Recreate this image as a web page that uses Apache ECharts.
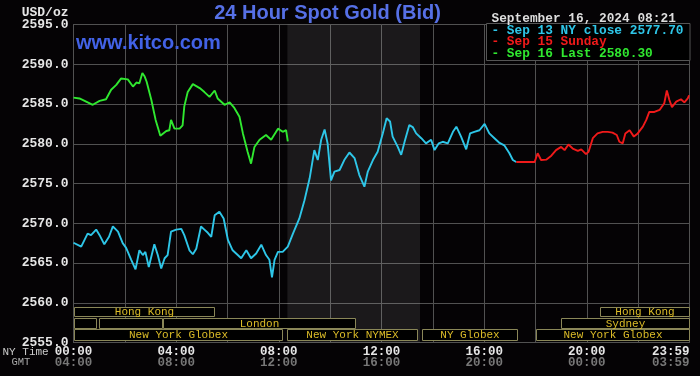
<!DOCTYPE html>
<html><head><meta charset="utf-8">
<script src="https://cdn.jsdelivr.net/npm/echarts@6/dist/echarts.min.js"></script>
<style>html,body{margin:0;padding:0;background:#050305;}#c{width:700px;height:376px;}</style>
</head><body><div id="c"></div>
<script>
// ---- data (time = minutes after 00:00 NY time) ----
const greenTimes = [0,14,26,45,61,76,88,100,111,127,139,147,154,161,166,171,182,192,203,217,224,228,236,248,255,259,267,279,295,306,318,330,337,353,365,376,388,396,407,415,423,435,450,462,478,489,497,501];
const greenValues = [2585.8,2585.7,2585.4,2584.9,2585.4,2585.6,2586.8,2587.4,2588.2,2588.1,2587.2,2587.7,2587.6,2588.9,2588.5,2587.8,2585.5,2583.0,2581.0,2581.6,2581.7,2583.0,2581.9,2581.9,2582.3,2584.7,2586.5,2587.5,2587.0,2586.5,2585.9,2586.7,2585.7,2584.9,2585.2,2584.5,2583.4,2581.3,2579.0,2577.5,2579.6,2580.5,2581.1,2580.5,2581.9,2581.5,2581.7,2580.3];

const cyanTimes = [0,18,33,41,53,61,72,83,92,104,115,123,135,145,154,162,168,176,189,197,205,213,220,228,240,252,259,271,279,287,298,306,314,322,330,341,351,361,372,384,392,404,415,427,439,450,458,464,470,478,489,501,513,528,540,552,563,571,579,587,594,602,610,622,633,645,657,668,680,688,700,711,723,732,740,746,758,766,774,785,793,801,813,824,836,844,854,863,875,887,895,906,918,927,937,949,961,972,984,996,1007,1019,1027,1035];
const cyanValues = [2567.55,2567.05,2568.7,2568.5,2569.2,2568.5,2567.35,2568.3,2569.6,2568.95,2567.5,2566.9,2565.4,2564.2,2566.6,2566.0,2566.4,2564.5,2567.35,2566.0,2564.3,2565.6,2566.0,2568.95,2569.2,2569.3,2568.5,2566.6,2566.1,2566.8,2569.6,2569.2,2568.8,2568.3,2571.0,2571.45,2570.6,2567.9,2566.6,2566.0,2565.6,2566.6,2565.6,2566.2,2567.3,2566.0,2565.4,2563.2,2565.4,2566.4,2566.4,2567.05,2568.7,2570.6,2572.9,2575.65,2579.2,2577.95,2580.5,2581.8,2580.05,2575.4,2576.5,2576.7,2577.95,2578.9,2578.2,2576.1,2574.6,2576.5,2577.95,2579.0,2581.3,2583.2,2582.8,2580.9,2579.6,2578.6,2580.25,2582.35,2582.1,2581.3,2580.7,2580.05,2580.5,2579.2,2580.05,2580.25,2580.05,2581.5,2582.15,2580.9,2579.3,2581.3,2581.5,2581.7,2582.5,2581.3,2580.7,2580.1,2579.8,2578.8,2577.95,2577.7];

const redTimes = [1035,1078,1085,1093,1105,1117,1128,1140,1148,1157,1167,1179,1187,1198,1204,1214,1225,1237,1249,1260,1270,1276,1284,1290,1300,1310,1319,1331,1339,1346,1358,1370,1381,1387,1393,1399,1409,1420,1428,1436,1439];
const redValues = [2577.7,2577.7,2578.8,2577.95,2578.0,2578.5,2579.2,2579.6,2579.2,2579.9,2579.4,2579.1,2579.3,2578.7,2579.0,2580.7,2581.3,2581.5,2581.5,2581.4,2581.1,2580.25,2580.05,2581.3,2581.7,2580.9,2581.3,2582.15,2583.0,2584.0,2584.0,2584.25,2585.1,2586.7,2585.5,2584.6,2585.3,2585.6,2585.2,2585.7,2586.1];

const seriesNames = ['Sep 13 NY close', 'Sep 15 Sunday', 'Sep 16 Last'];
const dateLabel = 'September 16, 2024 08:21';

const sessionNames = ['Hong Kong','Hong Kong','','','London','Sydney','New York Globex','New York NYMEX','NY Globex','New York Globex'];
const sessionStart = [0,1230,0,60,210,1140,0,500,814,1080];
const sessionEnd   = [330,1440,55,209,660,1440,490,805,1040,1440];
const sessionRow   = [0,0,1,1,1,1,2,2,2,2];

const comexStart = 500, comexEnd = 810;
const yMin = 2555, yMax = 2595, yStep = 5;

// ---- chart ----
const MONO = '"Liberation Mono", "DejaVu Sans Mono", monospace';
const zip = (t, v) => t.map((x, i) => [x, v[i]]);
function hhmm(m) {
  const h = Math.floor(m / 60) % 24, mm = m % 60;
  return String(h).padStart(2, '0') + ':' + String(mm).padStart(2, '0');
}
const rowTop = [2559.5, 2558.12, 2556.66];
const rowBot = [2558.25, 2556.7, 2555.25];

const chart = echarts.init(document.getElementById('c'));
chart.setOption({
  backgroundColor: '#050305',
  animation: false,
  grid: { left: 73.5, right: 10.5, top: 24.5, bottom: 33.5 },
  xAxis: {
    type: 'value', min: 0, max: 1440, interval: 120,
    axisLine: { show: true, lineStyle: { color: '#515151' } },
    axisTick: { show: false },
    splitLine: { show: true, lineStyle: { color: '#515151', width: 1 } },
    axisLabel: {
      margin: 4, showMaxLabel: true, showMinLabel: true, alignMaxLabel: 'right',
      formatter: v => {
        if (v % 240 !== 0) return '';
        const m = Math.min(v, 1439);
        return '{a|' + hhmm(m) + '}\n{b|' + hhmm(m + 240) + '}';
      },
      rich: {
        a: { fontFamily: MONO, fontWeight: 'bold', fontSize: 12.5, color: '#e6e6e6', lineHeight: 11 },
        b: { fontFamily: MONO, fontWeight: 'bold', fontSize: 12.5, color: '#777', lineHeight: 11 }
      }
    }
  },
  yAxis: {
    type: 'value', min: yMin, max: yMax, interval: yStep,
    axisLine: { show: true, lineStyle: { color: '#515151' } },
    axisTick: { show: false },
    splitLine: { show: true, lineStyle: { color: '#515151', width: 1 } },
    axisLabel: {
      margin: 5, formatter: v => v.toFixed(1),
      fontFamily: MONO, fontWeight: 'bold', fontSize: 13, color: '#e6e6e6'
    }
  },
  series: [
    {
      name: seriesNames[0], type: 'line', data: zip(cyanTimes, cyanValues), showSymbol: false,
      lineStyle: { color: '#2ec6e8', width: 1.9 }, z: 3,
      markArea: {
        silent: true,
        itemStyle: { color: 'rgba(255,255,255,0.09)' },
        data: [[{ xAxis: comexStart }, { xAxis: comexEnd }]]
      }
    },
    {
      name: seriesNames[1], type: 'line', data: zip(redTimes, redValues), showSymbol: false,
      lineStyle: { color: '#f01a1a', width: 1.9 }, z: 3
    },
    {
      name: seriesNames[2], type: 'line', data: zip(greenTimes, greenValues), showSymbol: false,
      lineStyle: { color: '#30e830', width: 1.9 }, z: 4
    },
    {
      type: 'custom', silent: true, z: 6,
      data: sessionStart.map((s, i) => [s, sessionEnd[i], sessionRow[i]]),
      renderItem: (params, api) => {
        const s = api.value(0), e = api.value(1), r = api.value(2);
        const name = sessionNames[params.dataIndex];
        const p1 = api.coord([s, rowTop[r]]), p2 = api.coord([e, rowBot[r]]);
        const x1 = Math.round(p1[0]) + 0.5, x2 = Math.round(p2[0]) - 0.5;
        const y1 = Math.round(p1[1]) + 0.5, y2 = Math.round(p2[1]) - 0.5;
        return {
          type: 'group', children: [
            { type: 'rect', shape: { x: x1, y: y1, width: x2 - x1, height: y2 - y1 },
              style: { fill: '#000', stroke: '#8a8758', lineWidth: 1 } },
            { type: 'text', style: { text: name, x: (x1 + x2) / 2, y: (y1 + y2) / 2 + 0.5,
              align: 'center', verticalAlign: 'middle', textAlign: 'center', textVerticalAlign: 'middle',
              fill: '#dcbc28', font: '11px ' + MONO } }
          ]
        };
      }
    }
  ],
  graphic: [
    { type: 'text', x: 327.5, y: 13.5, z: 10,
      style: { text: '24 Hour Spot Gold (Bid)', align: 'center', verticalAlign: 'middle', textAlign: 'center', textVerticalAlign: 'middle',
        fill: '#5670e6', font: 'bold 20px "Liberation Sans", Arial, sans-serif' } },
    { type: 'text', x: 76, y: 43.5, z: 10,
      style: { text: 'www.kitco.com', align: 'left', verticalAlign: 'middle', textAlign: 'left', textVerticalAlign: 'middle',
        fill: '#4262e6', font: 'bold 20px "Liberation Sans", Arial, sans-serif' } },
    { type: 'text', x: 68.5, y: 12.5, z: 10,
      style: { text: 'USD/oz', align: 'right', verticalAlign: 'middle', textAlign: 'right', textVerticalAlign: 'middle',
        fill: '#e6e6e6', font: 'bold 13px ' + MONO } },
    { type: 'text', x: 2.5, y: 351.7, z: 10,
      style: { text: 'NY Time', align: 'left', verticalAlign: 'middle', textAlign: 'left', textVerticalAlign: 'middle',
        fill: '#cccccc', font: '11px ' + MONO } },
    { type: 'text', x: 11.5, y: 362.7, z: 10,
      style: { text: 'GMT', align: 'left', verticalAlign: 'middle', textAlign: 'left', textVerticalAlign: 'middle',
        fill: '#aaaaaa', font: '10.5px ' + MONO } },
    { type: 'text', x: 491.5, y: 18.7, z: 10,
      style: { text: dateLabel, align: 'left', verticalAlign: 'middle', textAlign: 'left', textVerticalAlign: 'middle',
        fill: '#dddddd', font: 'bold 12.8px ' + MONO } },
    { type: 'rect', z: 9, shape: { x: 486.5, y: 23.5, width: 203.5, height: 37 },
      style: { fill: '#000', stroke: '#555', lineWidth: 1 } },
    { type: 'text', x: 491.5, y: 30.7, z: 10,
      style: { text: '- ' + seriesNames[0] + ' ' + cyanValues[cyanValues.length - 1].toFixed(2), align: 'left', verticalAlign: 'middle',
        textAlign: 'left', textVerticalAlign: 'middle', fill: '#2ec6e8', font: 'bold 12.8px ' + MONO } },
    { type: 'text', x: 491.5, y: 42, z: 10,
      style: { text: '- ' + seriesNames[1], align: 'left', verticalAlign: 'middle',
        textAlign: 'left', textVerticalAlign: 'middle', fill: '#f01a1a', font: 'bold 12.8px ' + MONO } },
    { type: 'text', x: 491.5, y: 53.8, z: 10,
      style: { text: '- ' + seriesNames[2] + ' ' + greenValues[greenValues.length - 1].toFixed(2), align: 'left', verticalAlign: 'middle',
        textAlign: 'left', textVerticalAlign: 'middle', fill: '#30e830', font: 'bold 12.8px ' + MONO } }
  ]
});
</script>
</body></html>
